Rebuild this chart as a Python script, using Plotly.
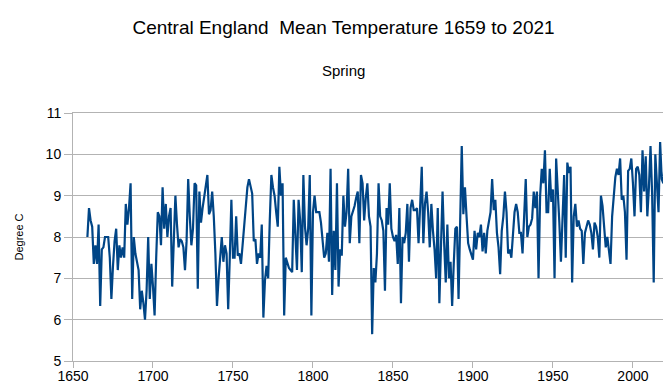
import plotly.graph_objects as go

# Spring mean temperature (deg C), year by year
start_year = 1659
t_1659_1669 = [8.0, 8.7, 8.4, 8.25, 7.35, 7.8, 7.35, 8.3, 6.33, 7.7, 7.75]
t_1670s = [8.0, 8.0, 8.0, 7.5, 6.5, 7.3, 7.9, 8.2, 7.2, 7.8]
t_1680s = [7.5, 7.75, 7.5, 8.8, 8.3, 8.7, 9.3, 6.5, 8.0, 7.6]
t_1690s = [7.35, 7.2, 6.25, 6.7, 6.4, 6.0, 6.7, 8.0, 6.5, 7.35]
t_1700s = [6.8, 6.1, 7.5, 8.6, 8.5, 7.8, 9.2, 8.2, 8.8, 8.0]
t_1710s = [8.5, 8.7, 6.8, 7.9, 9.0, 8.3, 7.75, 7.95, 7.9, 7.75]
t_1720s = [7.2, 7.9, 9.4, 8.5, 7.8, 8.2, 9.3, 9.25, 6.75, 9.1]
t_1730s = [8.35, 8.7, 8.98, 9.2, 9.5, 8.55, 8.65, 9.1, 8.5, 7.6]
t_1740s = [6.33, 7.0, 7.6, 8.0, 7.4, 7.8, 7.6, 6.25, 7.5, 8.9]
t_1750s = [7.5, 7.5, 8.5, 7.55, 7.6, 7.35, 7.8, 8.25, 8.8, 9.2]
t_1760s = [9.4, 9.2, 9.05, 7.9, 7.95, 7.35, 7.6, 7.5, 8.3, 6.05]
t_1770s = [6.95, 7.3, 7.0, 8.4, 9.5, 9.2, 9.0, 8.6, 8.25, 9.7]
t_1780s = [9.0, 9.3, 6.1, 7.5, 7.35, 7.25, 7.2, 7.15, 8.9, 8.1]
t_1790s = [7.2, 8.9, 8.4, 7.15, 9.5, 8.25, 7.8, 8.2, 9.5, 6.1]
t_1800s = [8.6, 9.0, 8.6, 8.6, 8.6, 8.35, 7.9, 7.5, 7.6, 8.1]
t_1810s = [7.4, 9.65, 6.6, 8.15, 7.2, 9.3, 6.8, 7.7, 7.55, 9.0]
t_1820s = [8.25, 8.6, 9.65, 7.85, 8.5, 8.6, 8.75, 8.95, 9.1, 7.85]
t_1830s = [9.5, 9.3, 8.4, 8.95, 9.3, 8.5, 8.25, 5.65, 7.25, 6.9]
t_1840s = [7.6, 9.3, 8.5, 8.4, 8.15, 6.7, 8.7, 8.3, 9.3, 8.2]
t_1850s = [8.0, 7.9, 8.05, 7.35, 8.7, 6.4, 8.0, 7.85, 8.1, 8.8]
t_1860s = [7.4, 8.7, 8.9, 8.65, 8.65, 8.7, 7.85, 8.75, 9.7, 7.85]
t_1870s = [8.8, 9.1, 8.6, 7.75, 8.8, 8.15, 7.7, 7.0, 8.7, 6.4]
t_1880s = [8.0, 9.1, 7.85, 6.9, 8.3, 7.0, 7.4, 6.33, 7.35, 8.2]
t_1890s = [8.25, 6.5, 8.35, 10.2, 8.55, 9.2, 8.5, 7.85, 7.7, 7.6]
t_1900s = [7.45, 8.15, 7.7, 8.1, 8.0, 8.3, 7.65, 8.1, 7.6, 8.15]
t_1910s = [8.35, 8.6, 9.4, 8.65, 8.9, 8.1, 7.75, 7.1, 8.15, 8.5]
t_1920s = [9.1, 8.6, 7.6, 7.7, 7.5, 8.0, 8.6, 8.8, 8.6, 8.1]
t_1930s = [8.1, 7.6, 8.4, 9.4, 8.0, 8.25, 8.3, 8.45, 9.1, 8.7]
t_1940s = [9.1, 7.0, 9.0, 9.65, 9.3, 10.1, 8.6, 8.6, 9.65, 8.85]
t_1950s = [9.15, 7.0, 9.9, 8.9, 8.35, 7.4, 8.4, 9.5, 7.5, 9.8]
t_1960s = [9.55, 9.7, 6.9, 8.5, 8.8, 8.25, 8.4, 8.2, 8.15, 7.35]
t_1970s = [8.1, 8.25, 8.4, 8.3, 8.1, 7.7, 8.35, 8.25, 8.0, 7.5]
t_1980s = [9.0, 8.75, 8.2, 7.75, 8.0, 7.6, 7.35, 8.5, 8.9, 9.45]
t_1990s = [9.65, 9.5, 9.9, 8.9, 9.0, 8.6, 7.45, 9.6, 9.65, 9.9]
t_2000s = [9.3, 8.5, 9.65, 9.7, 9.5, 8.6, 10.1, 9.1, 9.95, 8.5]
t_2010s = [9.2, 10.2, 9.05, 6.9, 10.0, 9.2, 8.6, 10.3, 9.4, 9.3]
t_2020s = [9.9, 7.9]

temps = (t_1659_1669 + t_1670s + t_1680s + t_1690s + t_1700s + t_1710s + t_1720s
         + t_1730s + t_1740s + t_1750s + t_1760s + t_1770s + t_1780s + t_1790s
         + t_1800s + t_1810s + t_1820s + t_1830s + t_1840s + t_1850s + t_1860s
         + t_1870s + t_1880s + t_1890s + t_1900s + t_1910s + t_1920s + t_1930s
         + t_1940s + t_1950s + t_1960s + t_1970s + t_1980s + t_1990s + t_2000s
         + t_2010s + t_2020s)
years = list(range(start_year, start_year + len(temps)))

x_ticks = [1650, 1700, 1750, 1800, 1850, 1900, 1950, 2000]
y_ticks = [5, 6, 7, 8, 9, 10, 11]

title_text = "Central England  Mean Temperature 1659 to 2021"
subtitle_text = "Spring"
y_title = "Degree C"

FONT = "Liberation Sans, Arial, sans-serif"
GRID = "#b3b3b3"

fig = go.Figure()
fig.add_trace(go.Scatter(x=years, y=temps, mode="lines",
                         line=dict(color="#004586", width=2.2),
                         hoverinfo="x+y"))

W, H = 671, 389
L, R, T, B = 65, 8, 105, 36
ph = H - T - B
pw = W - L - R

fig.update_layout(
    width=W, height=H,
    margin=dict(l=L, r=R, t=T, b=B),
    paper_bgcolor="white", plot_bgcolor="white",
    font=dict(family=FONT, color="#000000", size=14),
    showlegend=False,
    title=dict(text=title_text, x=0.5, xref="container",
               xanchor="center", y=1 - 19 / H, yanchor="middle",
               font=dict(size=19, family=FONT, color="#000000")),
    annotations=[
        dict(text=subtitle_text, xref="paper", yref="paper",
             x=(W / 2 - L) / pw, y=1 + (T - 62) / ph,
             xanchor="center", yanchor="middle", showarrow=False,
             font=dict(size=15, family=FONT, color="#000000")),
    ],
)

fig.update_xaxes(range=[1650, 2023.8], tickvals=x_ticks,
                 ticktext=[str(v) for v in x_ticks],
                 showgrid=False, zeroline=False,
                 showline=True, linecolor=GRID, linewidth=1, mirror=True,
                 ticks="outside", ticklen=6, tickcolor=GRID, tickwidth=1,
                 ticklabelstandoff=-4,
                 tickfont=dict(size=14, family=FONT, color="#000000"))
fig.update_yaxes(range=[5, 11], tickvals=y_ticks,
                 showgrid=True, gridcolor=GRID, gridwidth=1, zeroline=False,
                 showline=True, linecolor=GRID, linewidth=1, mirror=True,
                 ticks="outside", ticklen=8, tickcolor=GRID, tickwidth=1,
                 tickfont=dict(size=14, family=FONT, color="#000000"),
                 title=dict(text=y_title, standoff=19,
                            font=dict(size=11, family=FONT, color="#000000")))

fig.write_html("out.html")
